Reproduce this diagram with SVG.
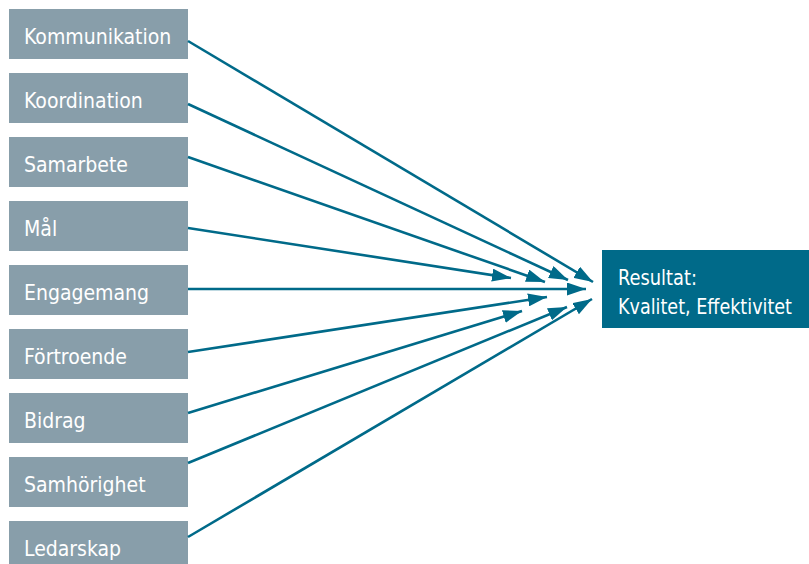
<svg xmlns="http://www.w3.org/2000/svg" width="809" height="564" viewBox="0 0 809 564">
<style>
.box{fill:#889eaa}
.res{fill:#006a89}
.t{fill:#ffffff;font-family:"DejaVu Sans Condensed","Liberation Sans Narrow","DejaVu Sans",sans-serif;font-size:21px}
.c{stroke:#006a89;stroke-width:2.6;fill:none;marker-end:url(#ah)}
</style>
<defs>
<marker id="ah" markerUnits="userSpaceOnUse" markerWidth="19" markerHeight="13" refX="19" refY="6.5" orient="auto">
<path d="M0,0 L19,6.5 L0,13 z" fill="#006a89"/>
</marker>
</defs>
<rect width="809" height="564" fill="#ffffff"/>
<g id="n1"><rect class="box" x="9" y="9" width="179" height="50"/><text class="t" x="24" y="44">Kommunikation</text></g>
<g id="n2"><rect class="box" x="9" y="73" width="179" height="50"/><text class="t" x="24" y="108">Koordination</text></g>
<g id="n3"><rect class="box" x="9" y="137" width="179" height="50"/><text class="t" x="24" y="172">Samarbete</text></g>
<g id="n4"><rect class="box" x="9" y="201" width="179" height="50"/><text class="t" x="24" y="236">Mål</text></g>
<g id="n5"><rect class="box" x="9" y="265" width="179" height="50"/><text class="t" x="24" y="300">Engagemang</text></g>
<g id="n6"><rect class="box" x="9" y="329" width="179" height="50"/><text class="t" x="24" y="364">Förtroende</text></g>
<g id="n7"><rect class="box" x="9" y="393" width="179" height="50"/><text class="t" x="24" y="428">Bidrag</text></g>
<g id="n8"><rect class="box" x="9" y="457" width="179" height="50"/><text class="t" x="24" y="492">Samhörighet</text></g>
<g id="n9"><rect class="box" x="9" y="521" width="179" height="50"/><text class="t" x="24" y="556">Ledarskap</text></g>
<g id="result"><rect class="res" x="602" y="250" width="207" height="78"/><text class="t" x="618" y="285" textLength="79" lengthAdjust="spacingAndGlyphs">Resultat:</text><text class="t" x="618" y="314" textLength="174" lengthAdjust="spacingAndGlyphs">Kvalitet, Effektivitet</text></g>
<g id="connectors">
<path class="c" d="M188,41 L593,282"/>
<path class="c" d="M188,104 L568,280"/>
<path class="c" d="M188,157 L545,282"/>
<path class="c" d="M188,228 L511,278"/>
<path class="c" d="M188,289 L586,289"/>
<path class="c" d="M188,352 L547,297"/>
<path class="c" d="M188,413 L522,311"/>
<path class="c" d="M188,463 L567,307"/>
<path class="c" d="M188,537 L592,299"/>
</g>
</svg>
